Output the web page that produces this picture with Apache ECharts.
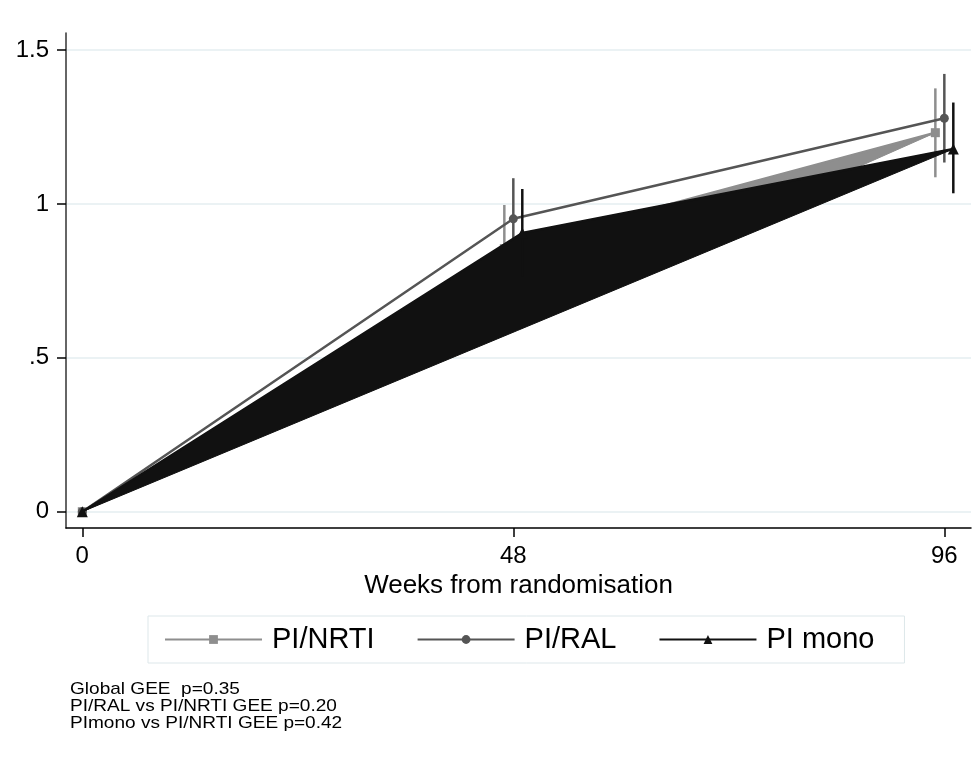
<!DOCTYPE html>
<html>
<head>
<meta charset="utf-8">
<script src="https://cdn.jsdelivr.net/npm/echarts@6/dist/echarts.min.js"></script>
<style>
html,body{margin:0;padding:0;background:#fff;}
#chart{width:980px;height:769px;}
</style>
</head>
<body>
<div id="chart"></div>
<script>
// ---- data ----
const weeks = [0, 48, 96];
const xTicks = [0, 48, 96];
const yTicks = [0, 0.5, 1, 1.5];
const seriesNames = ['PI/NRTI', 'PI/RAL', 'PI mono'];
const nrtiMean = [0, 0.855, 1.232];
const nrtiLo   = [0, 0.713, 1.087];
const nrtiHi   = [0, 0.997, 1.376];
const ralMean  = [0, 0.952, 1.279];
const ralLo    = [0, 0.820, 1.135];
const ralHi    = [0, 1.084, 1.423];
const monoMean = [0, 0.906, 1.179];
const monoLo   = [0, 0.763, 1.035];
const monoHi   = [0, 1.049, 1.330];
const notes = ['Global GEE  p=0.35', 'PI/RAL vs PI/NRTI GEE p=0.20', 'PImono vs PI/NRTI GEE p=0.42'];

// ---- styling ----
const FONT = 'Liberation Sans, Arial, sans-serif';
const groups = [
  {name: seriesNames[0], mean: nrtiMean, lo: nrtiLo, hi: nrtiHi, dodge: -1, color: '#8e8e8e', symbol: 'rect', size: 9, fill: true, z: 2},
  {name: seriesNames[1], mean: ralMean, lo: ralLo, hi: ralHi, dodge: 0, color: '#555555', symbol: 'circle', size: 9, fill: false, z: 3},
  {name: seriesNames[2], mean: monoMean, lo: monoLo, hi: monoHi, dodge: 1, color: '#111111', symbol: 'triangle', size: 11, fill: true, z: 4}
];
function xpos(w, d) { return w === 0 ? 0 : w + d; }

const series = [];
groups.forEach(g => {
  if (g.fill) {
    series.push({
      type: 'custom',
      name: g.name + '_area',
      silent: true,
      z: g.z,
      data: [[0, 0]],
      renderItem: function (params, api) {
        const pts = weeks.map((w, i) => api.coord([xpos(w, g.dodge), g.mean[i]]));
        return {type: 'polygon', z2: 0, shape: {points: pts}, style: {fill: g.color, stroke: g.color, lineWidth: 1}};
      }
    });
  }
  series.push({
    type: 'custom',
    name: g.name + '_ci',
    silent: true,
    z: g.z,
    data: weeks.map((w, i) => [xpos(w, g.dodge), g.lo[i], g.hi[i]]),
    encode: {x: 0, y: [1, 2]},
    renderItem: function (params, api) {
      const a = api.coord([api.value(0), api.value(1)]);
      const b = api.coord([api.value(0), api.value(2)]);
      return {type: 'line', z2: 1, shape: {x1: a[0], y1: a[1], x2: b[0], y2: b[1]}, style: {stroke: g.color, lineWidth: 2.5}};
    }
  });
  series.push({
    type: 'line',
    name: g.name,
    z: g.z,
    data: weeks.map((w, i) => [xpos(w, g.dodge), g.mean[i]]),
    symbol: g.symbol,
    symbolSize: g.size,
    showSymbol: true,
    itemStyle: {color: g.color, borderWidth: 0},
    lineStyle: {color: g.color, width: 2.5},
    animation: false
  });
});

const chart = echarts.init(document.getElementById('chart'), null, {renderer: 'canvas'});
chart.setOption({
  animation: false,
  backgroundColor: '#ffffff',
  grid: {left: 66, top: 33, right: 9, bottom: 241, containLabel: false, outerBoundsMode: 'none'},
  xAxis: {
    type: 'value',
    min: -1.815, max: 98.97,
    name: 'Weeks from randomisation',
    nameLocation: 'middle',
    nameGap: 42,
    nameTextStyle: {fontFamily: FONT, fontSize: 26, color: '#000'},
    axisLine: {show: true, onZero: false, lineStyle: {color: '#000', width: 1.5}},
    axisTick: {show: true, length: 9, customValues: xTicks, lineStyle: {color: '#000', width: 1.5}},
    axisLabel: {customValues: xTicks, margin: 16, fontFamily: FONT, fontSize: 24, color: '#000'},
    splitLine: {show: false}
  },
  yAxis: {
    type: 'value',
    min: -0.053, max: 1.556,
    axisLine: {show: true, onZero: false, lineStyle: {color: '#333', width: 1.5}},
    axisTick: {show: true, length: 9, customValues: yTicks, lineStyle: {color: '#000', width: 1.5}},
    axisLabel: {customValues: yTicks, margin: 17, fontFamily: FONT, fontSize: 24, color: '#000',
      formatter: v => String(v).replace(/^0\./, '.')},
    splitLine: {show: true, lineStyle: {color: '#e4eef0', width: 1.5}}
  },
  legend: {
    data: seriesNames,
    left: 148, top: 616,
    padding: [9, 30, 9, 16],
    itemWidth: 97, itemHeight: 11, itemGap: 42,
    borderColor: '#dde7ea', borderWidth: 1,
    textStyle: {fontFamily: FONT, fontSize: 29, color: '#000', padding: [0, 0, 0, 5]}
  },
  graphic: [{
    type: 'text',
    x: 70, y: 681,
    scaleX: 1.12,
    style: {text: notes.join('\n'), fontFamily: FONT, fontSize: 17, lineHeight: 17, fill: '#000'}
  }],
  series: series
});
</script>
</body>
</html>
